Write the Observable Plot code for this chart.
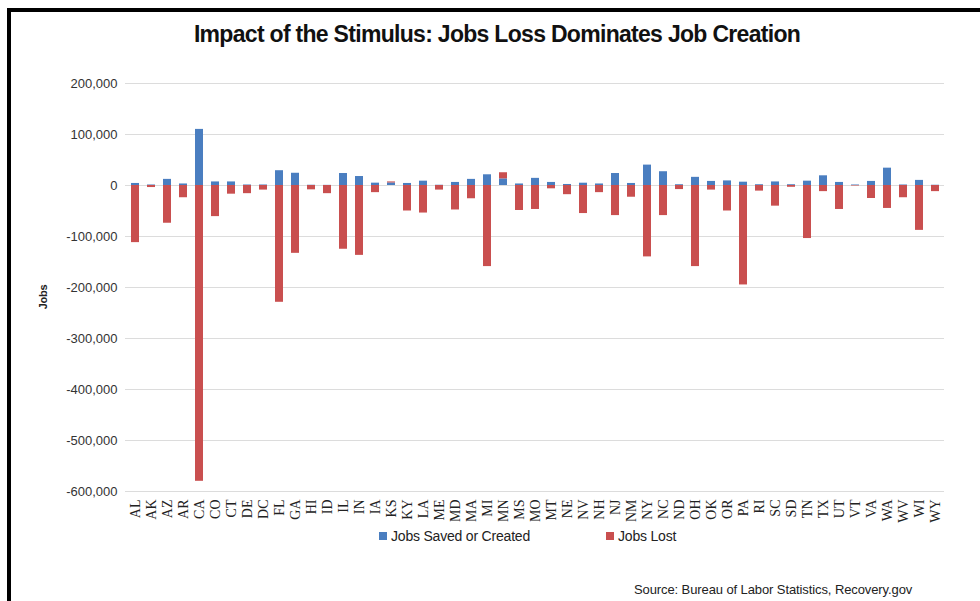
<!DOCTYPE html>
<html>
<head>
<meta charset="utf-8">
<script src="https://cdn.jsdelivr.net/npm/d3@7"></script>
<script src="https://cdn.jsdelivr.net/npm/@observablehq/plot@0.6"></script>
<style>
  html, body { margin: 0; padding: 0; background: #fff; }
  #page { position: relative; width: 980px; height: 601px; overflow: hidden; background: #fff; font-family: "Liberation Sans", Arial, sans-serif; }
  .edge { position: absolute; background: #000; }
  #title { position: absolute; left: 0; width: 994px; top: 21px; text-align: center; font-weight: bold; font-size: 23px; letter-spacing: -0.7px; color: #111; }
  #ylabel { position: absolute; left: 43px; top: 297px; transform: translate(-50%, -50%) rotate(-90deg); font-size: 11px; font-weight: bold; color: #222; letter-spacing: -0.3px; }
  #chart { position: absolute; left: 0; top: 60px; }
  .legend { position: absolute; top: 528px; font-size: 14px; color: #222; letter-spacing: -0.2px; display: flex; align-items: center; }
  .legend span.sw { display: inline-block; width: 8px; height: 8px; margin-right: 4px; }
  #source { position: absolute; left: 634px; top: 582px; font-size: 13px; color: #222; letter-spacing: -0.1px; }
</style>
</head>
<body>
<div id="page">
  <div class="edge" style="left:7px; top:8px; width:973px; height:4px;"></div>
  <div class="edge" style="left:7px; top:8px; width:4px; height:593px;"></div>
  <div id="title">Impact of the Stimulus: Jobs Loss Dominates Job Creation</div>
  <div id="ylabel">Jobs</div>
  <div id="chart"></div>
  <div class="legend" style="left:379px;"><span class="sw" style="background:#4a7ec0"></span>Jobs Saved or Created</div>
  <div class="legend" style="left:606px;"><span class="sw" style="background:#c94f4f"></span>Jobs Lost</div>
  <div id="source">Source: Bureau of Labor Statistics, Recovery.gov</div>
</div>
<script>
// States (plus DC) in the order shown along the axis
const states = ["AL","AK","AZ","AR","CA","CO","CT","DE","DC","FL","GA","HI","ID","IL","IN","IA","KS","KY","LA","ME","MD","MA","MI","MN","MS","MO","MT","NE","NV","NH","NJ","NM","NY","NC","ND","OH","OK","OR","PA","RI","SC","SD","TN","TX","UT","VT","VA","WA","WV","WI","WY"];

// Jobs saved or created by the stimulus
const saved = [4000,1000,12000,3000,110000,7000,7000,1000,1000,29000,24000,500,300,23500,17600,4600,5000,4000,8500,500,6000,12000,21000,13000,3000,14000,6000,2000,4500,3000,23500,4000,40000,27000,1500,16000,8000,9000,6500,1500,7000,1500,8500,19000,6000,1000,8000,34000,1000,10000,500];

// Jobs lost over the same period
const lost = [-112000,-4000,-74000,-24000,-580000,-61000,-17000,-16000,-9000,-229000,-133000,-8500,-16000,-125000,-137000,-14000,2000,-50000,-54000,-9000,-48000,-26000,-159000,12000,-49000,-47000,-6500,-18000,-55000,-14000,-59000,-23000,-140000,-59000,-8000,-159000,-9000,-50000,-195000,-11000,-40500,-3500,-104000,-12000,-47000,-1000,-25500,-45000,-24000,-88000,-12000];

const series = ["Jobs Saved or Created", "Jobs Lost"];
const yTicks = [200000,100000,0,-100000,-200000,-300000,-400000,-500000,-600000];

// thousands separators with a plain hyphen for negatives
const fmt = d3.formatLocale({decimal: ".", thousands: ",", grouping: [3], currency: ["$", ""], minus: "-"}).format(",");

const rows = states.flatMap((s, i) => [
  {state: s, series: series[0], value: saved[i]},
  {state: s, series: series[1], value: lost[i]}
]);

const chart = Plot.plot({
  width: 980,
  height: 476,
  marginTop: 23,
  marginBottom: 45,
  marginLeft: 125,
  marginRight: 36,
  style: {fontFamily: "Liberation Sans, Arial, sans-serif", background: "transparent"},
  x: {domain: states, paddingInner: 0.5, paddingOuter: 0.31, align: 0.5},
  y: {domain: [-600000, 200000]},
  color: {domain: series, range: ["#4a7ec0", "#c94f4f"]},
  marks: [
    Plot.gridY(yTicks, {stroke: "#dcdcdc", strokeOpacity: 1, strokeWidth: 1}),
    Plot.axisY(yTicks, {tickSize: 0, tickPadding: 8, tickFormat: fmt, label: null, fontSize: 13, fill: "#333"}),
    Plot.axisX({tickSize: 0, tickPadding: 8, tickRotate: -90, label: null, fontSize: 14, fontFamily: "Liberation Serif, Times New Roman, serif", fill: "#222", letterSpacing: "0.5px"}),
    Plot.barY(rows, {x: "state", y: "value", fill: "series", order: series})
  ]
});
document.getElementById("chart").appendChild(chart);
</script>
</body>
</html>
